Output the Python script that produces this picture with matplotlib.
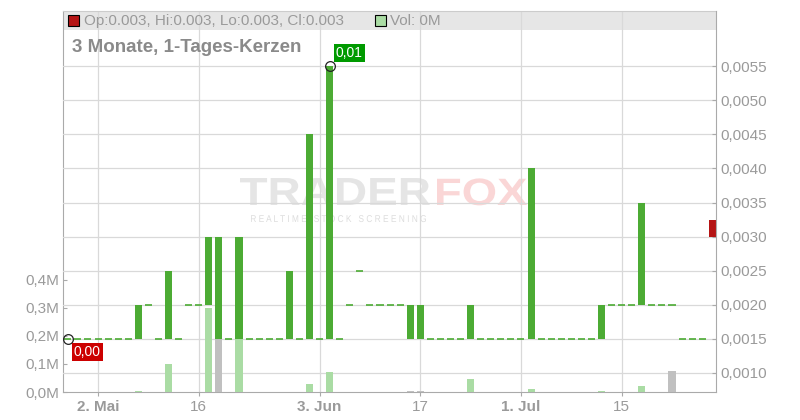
import pandas as pd
import matplotlib
matplotlib.use('Agg')
import matplotlib.pyplot as plt
from matplotlib.patches import Rectangle, PathPatch
from matplotlib.textpath import TextPath
from matplotlib.font_manager import FontProperties
from matplotlib.transforms import Affine2D
from matplotlib.ticker import FuncFormatter

plt.rcParams['font.family'] = ['Liberation Sans', 'DejaVu Sans']

# trading days Apr 29 - Jul 26 2024
days = pd.bdate_range('2024-04-29', '2024-07-26')

opens = [
    0.0015, 0.0015, 0.0015, 0.0015, 0.0015, 0.0015, 0.0015, 0.0015, 0.0020, 0.0015,
    0.0015, 0.0015, 0.0020, 0.0020, 0.0020, 0.0015, 0.0015, 0.0015, 0.0015, 0.0015,
    0.0015, 0.0015, 0.0015, 0.0015, 0.0015, 0.0015, 0.0015, 0.0015, 0.0020, 0.0025,
    0.0020, 0.0020, 0.0020, 0.0020, 0.0015, 0.0015, 0.0015, 0.0015, 0.0015, 0.0015,
    0.0015, 0.0015, 0.0015, 0.0015, 0.0015, 0.0015, 0.0015, 0.0015, 0.0015, 0.0015,
    0.0015, 0.0015, 0.0015, 0.0015, 0.0020, 0.0020, 0.0020, 0.0020, 0.0020, 0.0020,
    0.0020, 0.0015, 0.0015, 0.0015, 0.00325,
]
closes = [
    0.0015, 0.0015, 0.0015, 0.0015, 0.0015, 0.0015, 0.0015, 0.0020, 0.0020, 0.0015,
    0.0025, 0.0015, 0.0020, 0.0020, 0.0030, 0.0030, 0.0015, 0.0030, 0.0015, 0.0015,
    0.0015, 0.0015, 0.0025, 0.0015, 0.0045, 0.0015, 0.0055, 0.0015, 0.0020, 0.0025,
    0.0020, 0.0020, 0.0020, 0.0020, 0.0020, 0.0020, 0.0015, 0.0015, 0.0015, 0.0015,
    0.0020, 0.0015, 0.0015, 0.0015, 0.0015, 0.0015, 0.0040, 0.0015, 0.0015, 0.0015,
    0.0015, 0.0015, 0.0015, 0.0020, 0.0020, 0.0020, 0.0020, 0.0035, 0.0020, 0.0020,
    0.0020, 0.0015, 0.0015, 0.0015, 0.0030,
]
# volume in millions
volumes = [
    0, 0, 0, 0, 0, 0, 0, 0.004, 0, 0,
    0.10, 0, 0, 0, 0.30, 0.19, 0, 0.19, 0, 0,
    0, 0, 0, 0, 0.03, 0, 0.07, 0, 0, 0,
    0, 0, 0, 0, 0.004, 0.004, 0, 0, 0, 0,
    0.045, 0, 0, 0, 0, 0, 0.01, 0, 0, 0,
    0, 0, 0, 0.004, 0, 0, 0, 0.02, 0, 0,
    0.075, 0, 0, 0, 0,
]

tick_dates = ['2024-05-02', '2024-05-16', '2024-06-03', '2024-06-17', '2024-07-01', '2024-07-15']
tick_labels = ['2. Mai', '16', '3. Jun', '17', '1. Jul', '15']
price_ticks = [0.0010, 0.0015, 0.0020, 0.0025, 0.0030, 0.0035, 0.0040, 0.0045, 0.0050, 0.0055]
vol_ticks = [0.0, 0.1, 0.2, 0.3, 0.4]

GREEN = '#4cab34'
RED = '#b51414'
VOL_UP = '#aadca4'
VOL_FLAT = '#c0c0c0'
VOL_DOWN = '#e8a0a0'
GRID = '#d9d9d9'
AXIS = '#aaaaaa'
LABEL = '#9a9a9a'

W, H = 800, 420
fig = plt.figure(figsize=(W / 100, H / 100), dpi=100)
ax_v = fig.add_axes([63 / W, 28 / H, (716 - 63) / W, (392 - 11) / H])
ax_p = ax_v.twinx()

n = len(days)
xs = list(range(n))

# header band
ax_v.add_patch(Rectangle((0, 1 - 19 / 381), 1, 19 / 381, transform=ax_v.transAxes,
                         fc='#e6e6e6', ec='none', zorder=0.2))


# watermark
def path_text(s, x0, x1, y_base, cap_h, color, weight='bold'):
    tp = TextPath((0, 0), s, size=1, prop=FontProperties(family='Liberation Sans', weight=weight))
    ext = tp.get_extents()
    tr = (Affine2D().translate(-ext.x0, 0).scale((x1 - x0) / ext.width, cap_h / ext.height)
          .translate(x0, H - y_base).scale(1 / W, 1 / H) + fig.transFigure)
    ax_v.add_artist(PathPatch(tp, transform=tr, fc=color, ec='none', zorder=0.3))


path_text('TRADER', 240, 430, 205, 27, '#e5e5e5')
path_text('FOX', 437, 527, 205, 27, '#fad6d6')
path_text(' '.join('REALTIME STOCK SCREENING'), 251, 426, 222, 7, '#dddddd', weight='normal')

# grids
ax_v.set_axisbelow(True)
ax_p.set_axisbelow(True)
ax_v.xaxis.grid(True, color=GRID, lw=0.9)
ax_p.yaxis.grid(True, color=GRID, lw=0.9)

# volume bars (drawn in the price axes so they sit above the grid, below the candles)
vol_colors = [VOL_FLAT]
for i in range(1, n):
    if closes[i] > closes[i - 1]:
        vol_colors.append(VOL_UP)
    elif closes[i] < closes[i - 1]:
        vol_colors.append(VOL_DOWN)
    else:
        vol_colors.append(VOL_FLAT)
ax_p.bar(xs, volumes, width=0.7, color=vol_colors, transform=ax_v.transData, zorder=1)

# candles
for i in xs:
    o, c = opens[i], closes[i]
    if o == c:
        ax_p.hlines(c, i - 0.35, i + 0.35, color=GREEN, lw=1.2, zorder=2)
    else:
        ax_p.bar(i, c - o, bottom=o, width=0.7, color=GREEN if c > o else RED, zorder=2)

# min / max markers
lows = [min(o, c) for o, c in zip(opens, closes)]
highs = [max(o, c) for o, c in zip(opens, closes)]
i_lo = lows.index(min(lows))
i_hi = highs.index(max(highs))
for i, v in [(i_lo, lows[i_lo]), (i_hi, highs[i_hi])]:
    ax_p.plot(i, v, 'o', ms=7, mfc='none', mec='#222222', mew=0.9, zorder=3)
ax_p.annotate(f'{lows[i_lo]:.2f}'.replace('.', ','), (i_lo, lows[i_lo]), xytext=(6, -6),
              textcoords='offset pixels', ha='left', va='top', color='white', fontsize=10,
              bbox=dict(boxstyle='square,pad=0.15', fc='#cc0000', ec='none'), zorder=4)
ax_p.annotate(f'{highs[i_hi]:.2f}'.replace('.', ','), (i_hi, highs[i_hi]), xytext=(6, 6),
              textcoords='offset pixels', ha='left', va='bottom', color='white', fontsize=10,
              bbox=dict(boxstyle='square,pad=0.15', fc='#009a00', ec='none'), zorder=4)

# axes
ax_v.set_xlim(-0.48, 64.37)
ax_v.set_ylim(0, 1.36)
ax_p.set_ylim(0.00072, 0.00631)

tick_idx = [days.get_loc(pd.Timestamp(d)) for d in tick_dates]
ax_v.set_xticks(tick_idx)
ax_v.set_xticklabels(tick_labels)
for t in ax_v.get_xticklabels():
    if '.' in t.get_text():
        t.set_fontweight('bold')
ax_v.tick_params(axis='x', direction='out', length=3, color=AXIS, labelcolor=LABEL, labelsize=11, pad=3)

ax_v.set_yticks(vol_ticks)
ax_v.yaxis.set_major_formatter(FuncFormatter(lambda v, _: f'{v:.1f}M'.replace('.', ',')))
ax_v.tick_params(axis='y', direction='in', length=3, color=AXIS, labelcolor=LABEL, labelsize=11, pad=3)

ax_p.set_yticks(price_ticks)
ax_p.yaxis.set_major_formatter(FuncFormatter(lambda v, _: f'{v:.4f}'.replace('.', ',')))
ax_p.tick_params(axis='y', direction='in', length=3, color=AXIS, labelcolor=LABEL, labelsize=11, pad=3)

for s in ['left', 'bottom']:
    ax_v.spines[s].set_color(AXIS)
ax_v.spines['top'].set_color('#cccccc')
ax_v.spines['right'].set_visible(False)
for s in ['left', 'bottom', 'top']:
    ax_p.spines[s].set_visible(False)
ax_p.spines['right'].set_color(AXIS)

# header legend
last_col = GREEN if closes[-1] > opens[-1] else RED if closes[-1] < opens[-1] else GREEN
fig.add_artist(Rectangle((68 / W, (H - 26) / H), 11 / W, 11 / H, transform=fig.transFigure,
                         fc=last_col, ec='black', lw=0.8))
fig.text(84 / W, 1 - 21 / H,
         f'Op:{opens[-1]:.3f}, Hi:{highs[-1]:.3f}, Lo:{lows[-1]:.3f}, Cl:{closes[-1]:.3f}',
         fontsize=11, color=LABEL, va='center', ha='left')
fig.add_artist(Rectangle((375 / W, (H - 26) / H), 11 / W, 11 / H, transform=fig.transFigure,
                         fc=vol_colors[-1] if vol_colors[-1] != VOL_FLAT else VOL_UP, ec='black', lw=0.8))
fig.text(390 / W, 1 - 21 / H, f'Vol: {volumes[-1]:.0f}M', fontsize=11, color=LABEL, va='center', ha='left')

fig.text(72 / W, 1 - 48 / H, '3 Monate, 1-Tages-Kerzen', fontsize=13.5, fontweight='bold',
         color='#8a8a8a', va='center', ha='left')

fig.savefig('out.png', dpi=100)
